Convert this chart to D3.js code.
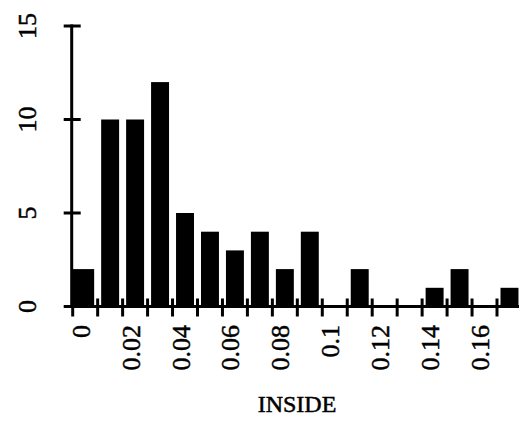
<!DOCTYPE html>
<html>
<head>
<meta charset="utf-8">
<script src="https://cdn.jsdelivr.net/npm/d3@7"></script>
<style>
  body { margin: 0; background: #fff; }
  svg text { font-family: "Liberation Serif", "Times New Roman", serif; fill: #000; stroke: #000; stroke-width: 0.5px; }
</style>
</head>
<body>
<svg width="519" height="421"></svg>
<script>
// histogram bins of INSIDE (bin width 0.01) and their counts
const binStarts = [0, 0.01, 0.02, 0.03, 0.04, 0.05, 0.06, 0.07, 0.08, 0.09, 0.10, 0.11, 0.12, 0.13, 0.14, 0.15, 0.16, 0.17];
const counts    = [2, 10, 10, 12, 5, 4, 3, 4, 2, 4, 0, 2, 0, 0, 1, 2, 0, 1];
const binWidth = 0.01;
const xTicks = [0, 0.01, 0.02, 0.03, 0.04, 0.05, 0.06, 0.07, 0.08, 0.09, 0.10, 0.11, 0.12, 0.13, 0.14, 0.15, 0.16, 0.17];
const xLabels = ["0", "0.02", "0.04", "0.06", "0.08", "0.1", "0.12", "0.14", "0.16"];
const yTicks = [0, 5, 10, 15];
const xTitle = "INSIDE";

const svg = d3.select('svg');
const width = +svg.attr('width');
const height = +svg.attr('height');

const x = d3.scaleLinear().domain([0, 0.17]).range([72.7, 497]);
const y = d3.scaleLinear().domain([0, 15]).range([306.5, 26]);

// bars, a small gap either side of each bin edge
const pad = 3.5;
svg.append('g').selectAll('rect')
  .data(binStarts.map((b, i) => ({ start: b, count: counts[i] })).filter(d => d.count > 0))
  .join('rect')
  .attr('x', d => d.start === 0 ? x(0) : x(d.start) + pad)
  .attr('width', d => d.start === 0 ? x(d.start + binWidth) - pad - x(0) : x(d.start + binWidth) - x(d.start) - 2 * pad)
  .attr('y', d => y(d.count))
  .attr('height', d => y(0) - y(d.count))
  .attr('fill', '#000');

const axis = svg.append('g').attr('stroke', '#000').attr('stroke-width', 3);

// y axis
axis.append('line')
  .attr('x1', x(0) - 1).attr('x2', x(0) - 1)
  .attr('y1', y(15) - 1.5).attr('y2', y(0) + 1);
axis.selectAll('.ytick')
  .data(yTicks)
  .join('line')
  .attr('class', 'ytick')
  .attr('x1', x(0) - 9).attr('x2', x(0) + 8)
  .attr('y1', d => y(d)).attr('y2', d => y(d));

// x axis
axis.append('line')
  .attr('x1', x(0) - 2).attr('x2', width)
  .attr('y1', y(0)).attr('y2', y(0));
axis.selectAll('.xtick')
  .data(xTicks)
  .join('line')
  .attr('class', 'xtick')
  .attr('x1', d => x(d)).attr('x2', d => x(d))
  .attr('y1', y(0) - 8).attr('y2', y(0) + 10);

// y tick labels, rotated
svg.selectAll('.ylab')
  .data(yTicks)
  .join('text')
  .attr('class', 'ylab')
  .attr('transform', d => `translate(36,${y(d)}) rotate(-90)`)
  .attr('text-anchor', 'middle')
  .style('font-size', '26px')
  .text(d => d);

// x tick labels, rotated, every 0.02
svg.selectAll('.xlab')
  .data(xLabels)
  .join('text')
  .attr('class', 'xlab')
  .attr('transform', d => `translate(${x(+d) + 17},325) rotate(-90)`)
  .attr('text-anchor', 'end')
  .style('font-size', '26px')
  .text(d => d);

svg.append('text')
  .attr('x', 297)
  .attr('y', 412)
  .attr('text-anchor', 'middle')
  .style('font-size', '24px')
  .text(xTitle);
</script>
</body>
</html>
